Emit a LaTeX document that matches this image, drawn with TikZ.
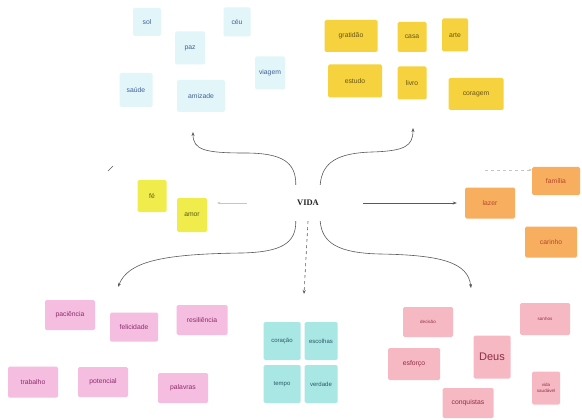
\documentclass[tikz,border=0pt]{standalone}
\usepackage{fontspec}
\setmainfont{Liberation Sans}
\newfontfamily\vidafont{Liberation Serif}
\usetikzlibrary{arrows.meta}
\definecolor{bluenote}{HTML}{E2F6FA}
\definecolor{bluetext}{HTML}{3E5F94}
\definecolor{goldnote}{HTML}{F5D23E}
\definecolor{goldtext}{HTML}{6A5510}
\definecolor{limenote}{HTML}{EFEC4C}
\definecolor{limetext}{HTML}{5C5812}
\definecolor{orangenote}{HTML}{F7AF5F}
\definecolor{orangetext}{HTML}{B5462A}
\definecolor{pinknote}{HTML}{F5BDE0}
\definecolor{pinktext}{HTML}{8C2C6C}
\definecolor{cyannote}{HTML}{A8E7E4}
\definecolor{cyantext}{HTML}{2C5868}
\definecolor{rosenote}{HTML}{F6B9C3}
\definecolor{rosetext}{HTML}{8E2C44}
\definecolor{linegray}{HTML}{5A5A5A}
\tikzset{
  note/.style={rectangle, rounded corners=1.5pt, inner sep=1pt, align=center,
    font=\fontsize{6.8}{7.5}\selectfont},
  bluen/.style={note, fill=bluenote, text=bluetext},
  goldn/.style={note, fill=goldnote, text=goldtext},
  limen/.style={note, fill=limenote, text=limetext},
  orangen/.style={note, fill=orangenote, text=orangetext},
  pinkn/.style={note, fill=pinknote, text=pinktext},
  cyann/.style={note, fill=cyannote, text=cyantext},
  rosen/.style={note, fill=rosenote, text=rosetext},
  sz/.style 2 args={minimum width=#1pt, minimum height=#2pt},
  conn/.style={draw=linegray, line width=0.6pt, -{Stealth[length=4pt,width=3pt]}},
  faint/.style={draw=gray!45, line width=0.4pt, -{Stealth[length=3pt,width=2.5pt]}}
}
\begin{document}
\begin{tikzpicture}[x=1pt,y=-1pt]
\useasboundingbox (0,0) rectangle (582,420);
\fill[white] (0,0) rectangle (582,420);
% centre
\node[inner sep=0pt, minimum width=24pt, minimum height=36pt,
  font=\vidafont\bfseries\fontsize{8.5}{9}\selectfont, text=black!85] (vida) at (308,203) {VIDA};
% blue notes
\node[bluen, sz={28}{28}] (sol) at (147,22) {sol};
\node[bluen, sz={27}{29}] (ceu) at (237,22) {céu};
\node[bluen, sz={30}{33}] (paz) at (190,48) {paz};
\node[bluen, sz={30}{33}] (viagem) at (270,73) {viagem};
\node[bluen, sz={33}{34}] (saude) at (136,90) {saúde};
\node[bluen, sz={48}{32}] (amizade) at (201,96) {amizade};
% gold notes
\node[goldn, sz={53}{32}] (gratidao) at (351,36) {gratidão};
\node[goldn, sz={29}{30}] (casa) at (412,37) {casa};
\node[goldn, sz={26}{33}] (arte) at (455,35) {arte};
\node[goldn, sz={54}{33}] (estudo) at (355,81) {estudo};
\node[goldn, sz={29}{33}] (livro) at (412,83) {livro};
\node[goldn, sz={55}{32}] (coragem) at (476,94) {coragem};
% lime notes
\node[limen, sz={29}{32}] (fe) at (152,196) {fé};
\node[limen, sz={30}{34}] (amor) at (192,215) {amor};
% orange notes
\node[orangen, sz={48}{28}] (familia) at (556,181) {família};
\node[orangen, sz={50}{31}] (lazer) at (490,203) {lazer};
\node[orangen, sz={52}{31}] (carinho) at (551,242) {carinho};
% pink left notes
\node[pinkn, sz={50}{30}] (paciencia) at (70,315) {paciência};
\node[pinkn, sz={48}{29}] (felicidade) at (134,327) {felicidade};
\node[pinkn, sz={51}{30}] (resiliencia) at (202,320) {resiliência};
\node[pinkn, sz={50}{31}] (trabalho) at (33,382) {trabalho};
\node[pinkn, sz={50}{30}] (potencial) at (103,382) {potencial};
\node[pinkn, sz={50}{30}] (palavras) at (183,388) {palavras};
% cyan notes
\node[cyann, sz={37}{38}, font=\fontsize{6}{7}\selectfont] (coracao) at (282,341) {coração};
\node[cyann, sz={33}{38}, font=\fontsize{6}{7}\selectfont] (escolhas) at (321,341) {escolhas};
\node[cyann, sz={37}{38}, font=\fontsize{6}{7}\selectfont] (tempo) at (282,384) {tempo};
\node[cyann, sz={33}{38}, font=\fontsize{6}{7}\selectfont] (verdade) at (321,384) {verdade};
% rose notes
\node[rosen, sz={50}{30}, font=\fontsize{4.5}{5}\selectfont] (decisao) at (428,322) {decisão};
\node[rosen, sz={50}{32}, font=\fontsize{4.5}{5}\selectfont] (sonhos) at (545,319) {sonhos};
\node[rosen, sz={37}{43}, font=\fontsize{11}{12}\selectfont] (deus) at (492,357) {Deus};
\node[rosen, sz={52}{32}] (esforco) at (414,364) {esforço};
\node[rosen, sz={51}{30}] (conquistas) at (468,403) {conquistas};
\node[rosen, sz={28}{33}, font=\fontsize{4.5}{5.5}\selectfont] (saudavel) at (546,388) {vida\\saudável};
% arrow ends
\coordinate (ulend) at (193,132);
\coordinate (urend) at (413,128);
\coordinate (llend) at (118,287);
\coordinate (lrend) at (471,288);
\coordinate (dnend) at (304,294);
\coordinate (famstart) at (485,170);
% connectors
\draw[conn] (vida.north west) .. controls (296,162) and (282,153) .. (245,153)
   .. controls (205,153) and (193,150) .. (ulend);
\draw[conn] (vida.north east) .. controls (322,162) and (338,153) .. (372,152)
   .. controls (405,151) and (413,146) .. (urend);
\draw[conn] (vida.south west) .. controls (296,243) and (282,252) .. (242,253)
   .. controls (160,254) and (128,262) .. (llend);
\draw[conn] (vida.south east) .. controls (322,243) and (338,253) .. (380,254)
   .. controls (440,255) and (468,262) .. (lrend);
\draw[conn, dashed, dash pattern=on 3pt off 3pt] (vida.south) -- (dnend);
\draw[conn, shorten <=43pt, shorten >=8pt] (vida.east) -- (lazer.west);
\draw[faint, shorten <=49pt, shorten >=10pt] (vida.west) -- (vida.west -| amor.east);
\draw[faint, dashed] (famstart) -- (famstart -| familia.west);
% small stray mark
\draw[linegray, line width=0.7pt] (108,171) -- (113,166);
\end{tikzpicture}
\end{document}
